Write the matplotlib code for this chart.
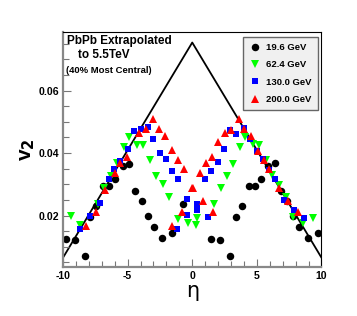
import numpy as np
import matplotlib
matplotlib.use('Agg')
import matplotlib.pyplot as plt
from matplotlib.ticker import MultipleLocator

plt.rcParams['font.family'] = ['Liberation Sans', 'DejaVu Sans']

# triangle-shaped extrapolation line
line_eta = [-10, 0, 10]
line_v2 = [0.0065, 0.0754, 0.0065]

# 19.6 GeV
eta_196 = [-9.8, -9.08, -8.33, -7.88, -7.42, -6.92, -6.42, -5.95, -5.38, -4.9, -4.4, -3.92, -3.43,
           -2.98, -2.31, -1.53, -0.75,
           1.45, 2.18, 2.93, 3.4, 3.85, 4.38, 4.85, 5.3, 5.88, 6.37, 6.83, 7.33, 7.82, 8.26, 8.99, 9.7]
v2_196 = [0.0125, 0.0121, 0.0070, 0.0196, 0.0230, 0.0296, 0.0296, 0.0316, 0.0358, 0.0366, 0.0277, 0.0248, 0.0197,
          0.0162, 0.0128, 0.0144, 0.0237,
          0.0125, 0.0121, 0.0070, 0.0196, 0.0232, 0.0296, 0.0296, 0.0316, 0.0360, 0.0368, 0.0277, 0.0248, 0.0197,
          0.0163, 0.0129, 0.0145]

# 62.4 GeV
eta_624 = [-9.35, -8.65, -7.28, -6.8, -6.3, -5.8, -5.3, -4.9, -4.25, -3.78, -3.27, -2.77, -2.25, -1.82,
           -1.12, -0.35, 0.32,
           0.38, 1.72, 2.2, 2.67, 3.17, 3.68, 4.1, 4.72, 5.18, 5.72, 6.2, 6.71, 7.28, 7.8, 8.6, 9.36]
v2_624 = [0.0200, 0.0168, 0.0237, 0.0288, 0.0327, 0.0367, 0.0420, 0.0451, 0.0427, 0.0426, 0.0378, 0.0328,
          0.0300, 0.0260, 0.0190, 0.0176, 0.0168,
          0.0193, 0.0237, 0.0287, 0.0325, 0.0365, 0.0418, 0.0451, 0.0428, 0.0427, 0.0378, 0.0330, 0.0299,
          0.0259, 0.0195, 0.0175, 0.0192]

# 130.0 GeV
eta_130 = [-8.65, -7.92, -7.17, -6.45, -6.04, -5.59, -5.0, -4.53, -4.0, -3.42, -3.02, -2.52, -2.0, -1.53,
           -1.07, -1.17, -0.44, -0.37, 0.33, 0.38,
           1.02, 1.2, 1.47, 1.97, 2.46, 2.95, 3.42, 4.03, 4.5, 5.0, 5.48, 5.97, 6.44, 7.13, 7.88, 8.66]
v2_130 = [0.0156, 0.0200, 0.0240, 0.0317, 0.0348, 0.0374, 0.0413, 0.0471, 0.0478, 0.0483, 0.0444, 0.0401,
          0.0381, 0.0344, 0.0317, 0.0156, 0.0201, 0.0252, 0.0238, 0.0219,
          0.0316, 0.0194, 0.0344, 0.0372, 0.0412, 0.0474, 0.0461, 0.0480, 0.0444, 0.0408, 0.0380, 0.0347,
          0.0318, 0.0250, 0.0219, 0.0193]

# 200.0 GeV
eta_200 = [-8.25, -7.48, -6.72, -5.98, -5.57, -5.08, -4.12, -3.6, -3.03, -2.6, -2.08, -1.6, -1.07, -0.63,
           -0.02, -1.6, -0.82,
           0.09, 0.85, 1.62, 0.6, 1.03, 1.52, 2.02, 2.5, 2.98, 3.6, 4.0, 4.58, 5.05, 5.55, 5.97, 6.69, 7.4, 8.21]
v2_200 = [0.0165, 0.0212, 0.0281, 0.0336, 0.0368, 0.0387, 0.0464, 0.0476, 0.0508, 0.0476, 0.0455, 0.0409,
          0.0377, 0.0348, 0.0289, 0.0165, 0.0212,
          0.0289, 0.0245, 0.0212, 0.0337, 0.0368, 0.0388, 0.0437, 0.0463, 0.0474, 0.0510, 0.0476, 0.0454,
          0.0406, 0.0377, 0.0348, 0.0289, 0.0246, 0.0212]

fig = plt.figure(figsize=(3.57, 3.16), dpi=100)
ax = fig.add_axes([0.1765, 0.155, 0.724, 0.744])

ax.plot(line_eta, line_v2, color='black', lw=1.3, zorder=1)
ax.plot(eta_196, v2_196, 'o', color='black', ms=5.4, mew=0, label='19.6 GeV', zorder=2)
ax.plot(eta_624, v2_624, 'v', color='#00ff00', ms=5.6, mew=0, label='62.4 GeV', zorder=3)
ax.plot(eta_130, v2_130, 's', color='#0000ff', ms=4.9, mew=0, label='130.0 GeV', zorder=4)
ax.plot(eta_200, v2_200, '^', color='#ff0000', ms=5.6, mew=0, label='200.0 GeV', zorder=5)

ax.set_xlim(-10, 10)
ax.set_ylim(0.0035, 0.0788)
ax.xaxis.set_major_locator(MultipleLocator(5))
ax.xaxis.set_minor_locator(MultipleLocator(1))
ax.yaxis.set_major_locator(MultipleLocator(0.02))
ax.yaxis.set_minor_locator(MultipleLocator(0.005))
ax.tick_params(which='both', direction='in', top=False, right=False, labelsize=7.6, pad=3)
ax.tick_params(which='major', length=6, width=0.8, color='#777777')
ax.tick_params(which='minor', length=4, width=0.8, color='#777777')
ax.set_xticks([-10, -5, 0, 5, 10])
ax.set_xticklabels(['-10', '-5', '0', '5', '10'], fontweight='bold')
ax.set_yticks([0.02, 0.04, 0.06])
ax.set_yticklabels(['0.02', '0.04', '0.06'], fontweight='bold')

for s in ['left', 'bottom']:
    ax.spines[s].set_color('#888888')
    ax.spines[s].set_linewidth(1.6)
for s in ['top', 'right']:
    ax.spines[s].set_color('black')
    ax.spines[s].set_linewidth(0.8)

ax.set_xlabel('η', fontsize=15, family='DejaVu Sans', labelpad=0)
ax.set_ylabel('v$_\\mathbf{2}$', fontsize=15, fontweight='bold', labelpad=1)

ax.text(0.016, 0.949, 'PbPb Extrapolated', transform=ax.transAxes, fontsize=8.5, fontweight='bold')
ax.text(0.058, 0.888, 'to 5.5TeV', transform=ax.transAxes, fontsize=8.5, fontweight='bold')
ax.text(0.012, 0.826, '(40% Most Central)', transform=ax.transAxes, fontsize=6.8, fontweight='bold')

leg = ax.legend(loc='upper right', bbox_to_anchor=(0.985, 0.977), prop={'size': 6.8, 'weight': 'bold'},
                fancybox=False, frameon=True, handletextpad=0.5, labelspacing=0.88,
                borderpad=0.6, handlelength=1.4, borderaxespad=0)
leg.get_frame().set_facecolor('#f0f0f0')
leg.get_frame().set_edgecolor('#666666')
leg.get_frame().set_linewidth(1.0)
leg.get_frame().set_alpha(1)

fig.savefig('out.png', dpi=100)
